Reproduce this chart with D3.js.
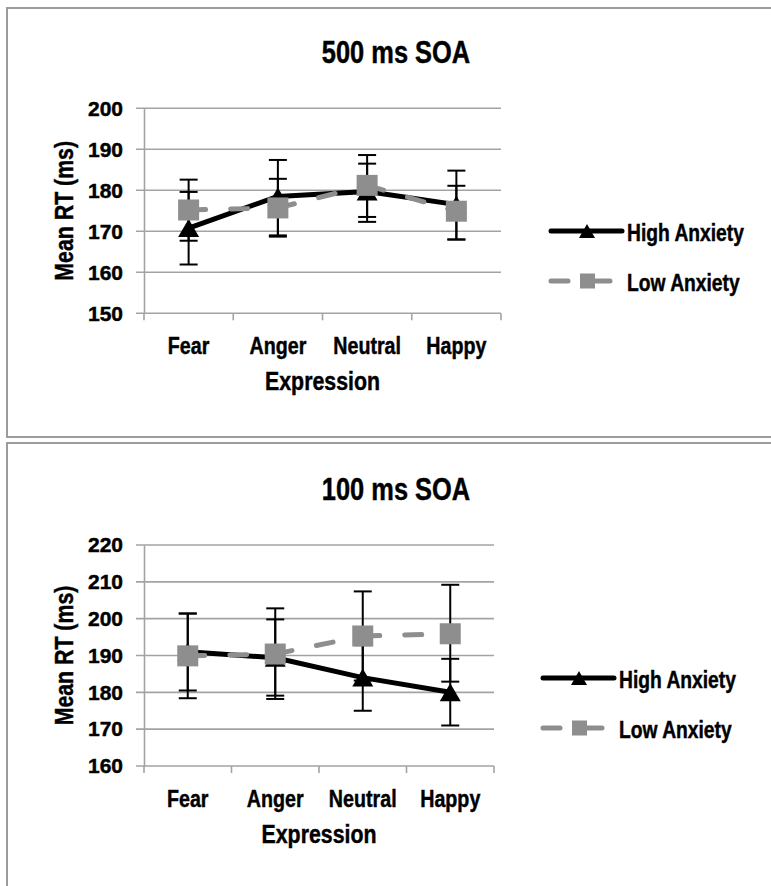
<!DOCTYPE html>
<html><head><meta charset="utf-8">
<script src="https://cdn.jsdelivr.net/npm/d3@7"></script>
<style>body{margin:0;background:#fff} svg{display:block} text{stroke:#000;stroke-width:0.45px}</style>
</head><body>
<svg id="c" width="771" height="886"></svg>
<script>
// ---------- data ----------
const categories = ["Fear", "Anger", "Neutral", "Happy"];
const seriesNames = ["High Anxiety", "Low Anxiety"];
const xAxisTitle = "Expression";
const yAxisTitle = "Mean RT (ms)";

// 500 ms SOA
const title500 = "500 ms SOA";
const ticks500 = [150, 160, 170, 180, 190, 200];
const high500 = [170.8, 178.5, 179.7, 176.5];
const high500Upper = [179.6, 187.4, 188.6, 184.8];
const high500Lower = [161.9, 168.7, 172.3, 168.0];
const low500 = [175.2, 175.7, 181.2, 174.9];
const low500Upper = [182.6, 182.8, 186.5, 181.1];
const low500Lower = [167.7, 169.0, 173.5, 168.0];

// 100 ms SOA
const title100 = "100 ms SOA";
const ticks100 = [160, 170, 180, 190, 200, 210, 220];
const high100 = [191.0, 189.4, 184.0, 180.0];
const high100Upper = [201.4, 199.8, 192.8, 189.1];
const high100Lower = [180.5, 179.1, 175.0, 171.0];
const low100 = [189.9, 190.4, 195.3, 195.9];
const low100Upper = [201.4, 202.8, 207.4, 209.2];
const low100Lower = [178.4, 178.2, 183.2, 182.9];

// ---------- style ----------
const FONT = "'Liberation Sans',Arial,sans-serif";
const SQ = 0.82; // horizontal squeeze to mimic a condensed face
const GRID = "#a3a3a3";
const GRAYS = "#8e8e8e";

const svg = d3.select("#c");

function ctext(g, x, y, size, txt, anchor, rot) {
  return g.append("text")
    .attr("transform", `translate(${x},${y})${rot ? " rotate(" + rot + ")" : ""} scale(${SQ},1)`)
    .attr("text-anchor", anchor || "start")
    .attr("font-family", FONT).attr("font-weight", "bold").attr("font-size", size)
    .attr("fill", "#000").text(txt);
}

function drawChart(cfg) {
  const g = svg.append("g");
  // border
  g.append("path")
    .attr("d", `M${cfg.boxRight},${cfg.boxTop} H7 V${cfg.boxBottom} H${cfg.boxRight}`)
    .attr("fill", "none").attr("stroke", "#9c9c9c").attr("stroke-width", 2);

  const x = d3.scaleBand().domain(categories).range([cfg.left, cfg.right]).padding(0);
  const y = d3.scaleLinear().domain([cfg.ticks[0], cfg.ticks[cfg.ticks.length - 1]])
    .range([cfg.bottom, cfg.top]);
  const cx = c => x(c) + x.bandwidth() / 2;

  // title
  ctext(g, 396, cfg.top - 45, 31, cfg.title, "middle");

  // gridlines
  g.selectAll(".grid").data(cfg.ticks).join("line")
    .attr("x1", cfg.left - 8).attr("x2", cfg.right)
    .attr("y1", d => y(d)).attr("y2", d => y(d))
    .attr("stroke", GRID).attr("stroke-width", 1.6);

  // y axis
  const ya = g.append("g").attr("transform", `translate(${cfg.left},0)`)
    .call(d3.axisLeft(y).tickValues(cfg.ticks).tickSize(0).tickPadding(21).tickFormat(d3.format("d")));
  ya.select(".domain").attr("stroke", GRID).attr("stroke-width", 1.6);
  ya.selectAll("text").attr("font-family", FONT).attr("font-weight", "bold")
    .attr("font-size", 21).attr("fill", "#000");

  // x axis
  const xa = g.append("g").attr("transform", `translate(0,${cfg.bottom})`)
    .call(d3.axisBottom(x).tickSize(0).tickPadding(0));
  xa.select(".domain").remove();
  xa.selectAll("text").attr("font-family", FONT).attr("font-weight", "bold")
    .attr("font-size", 24).attr("fill", "#000").attr("dy", null).attr("y", 41)
    .attr("transform", `scale(${SQ},1)`);
  const bounds = categories.map(c => x(c)).concat([cfg.right]);
  g.selectAll(".xt").data(bounds).join("line")
    .attr("x1", d => d).attr("x2", d => d).attr("y1", cfg.bottom).attr("y2", cfg.bottom + 7)
    .attr("stroke", GRID).attr("stroke-width", 1.6);

  // axis titles
  ctext(g, (cfg.left + cfg.right) / 2, cfg.bottom + 77, 26, xAxisTitle, "middle");
  ctext(g, 64, (cfg.top + cfg.bottom) / 2, 26, yAxisTitle, "middle", -90).attr("dy", "0.35em");

  const series = [
    { name: seriesNames[0], v: cfg.high, up: cfg.highUp, lo: cfg.highLo, color: "#000", dash: null, marker: "tri" },
    { name: seriesNames[1], v: cfg.low, up: cfg.lowUp, lo: cfg.lowLo, color: GRAYS, dash: "17 25", marker: "sq" }
  ];

  // error bars
  series.forEach(s => {
    categories.forEach((c, i) => {
      const eg = g.append("g").attr("stroke", "#000").attr("stroke-width", 2);
      eg.append("line").attr("x1", cx(c)).attr("x2", cx(c)).attr("y1", y(s.up[i])).attr("y2", y(s.lo[i]));
      [s.up[i], s.lo[i]].forEach(v => eg.append("line")
        .attr("x1", cx(c) - 9).attr("x2", cx(c) + 9).attr("y1", y(v)).attr("y2", y(v)));
    });
  });

  // lines (each segment restarts its dash pattern)
  const line = d3.line().x(d => cx(d.c)).y(d => y(d.v));
  series.forEach(s => {
    const pts = categories.map((c, i) => ({ c, v: s.v[i] }));
    for (let i = 0; i < pts.length - 1; i++) {
      g.append("path").attr("d", line([pts[i], pts[i + 1]]))
        .attr("fill", "none").attr("stroke", s.color).attr("stroke-width", 5)
        .attr("stroke-linecap", "round").attr("stroke-linejoin", "round")
        .attr("stroke-dasharray", s.dash);
    }
  });

  // markers
  const tri = (px, py, w, h) => `M${px},${py - h / 2} L${px + w / 2},${py + h / 2} L${px - w / 2},${py + h / 2} Z`;
  series.forEach(s => {
    categories.forEach((c, i) => {
      if (s.marker === "tri") {
        g.append("path").attr("d", tri(cx(c), y(s.v[i]), 21, 18)).attr("fill", "#000");
      } else {
        g.append("rect").attr("x", cx(c) - 10.5).attr("y", y(s.v[i]) - 10.5)
          .attr("width", 21).attr("height", 21).attr("fill", GRAYS);
      }
    });
  });

  // legend
  series.forEach((s, k) => {
    const ly = cfg.legY + k * 50;
    const lx = cfg.legX;
    g.append("line").attr("x1", lx).attr("x2", s.dash ? 66 + lx : 71 + lx).attr("y1", ly).attr("y2", ly)
      .attr("stroke", s.color).attr("stroke-width", 5).attr("stroke-linecap", "round")
      .attr("stroke-dasharray", s.dash);
    if (s.marker === "tri") {
      g.append("path").attr("d", tri(lx + 36, ly, 16, 14)).attr("fill", "#000");
    } else {
      g.append("rect").attr("x", lx + 29).attr("y", ly - 7.5).attr("width", 15).attr("height", 15).attr("fill", GRAYS);
    }
    ctext(g, lx + 76, ly + 9.5, 23.5, s.name, "start");
  });
}

drawChart({
  title: title500, ticks: ticks500, boxTop: 8, boxBottom: 437, boxRight: 790,
  left: 144, right: 501, top: 108.3, bottom: 313.3,
  high: high500, highUp: high500Upper, highLo: high500Lower,
  low: low500, lowUp: low500Upper, lowLo: low500Lower,
  legX: 551, legY: 231
});
drawChart({
  title: title100, ticks: ticks100, boxTop: 443, boxBottom: 900, boxRight: 790,
  left: 144, right: 494, top: 545, bottom: 766,
  high: high100, highUp: high100Upper, highLo: high100Lower,
  low: low100, lowUp: low100Upper, lowLo: low100Lower,
  legX: 543, legY: 678
});
</script>
</body></html>
